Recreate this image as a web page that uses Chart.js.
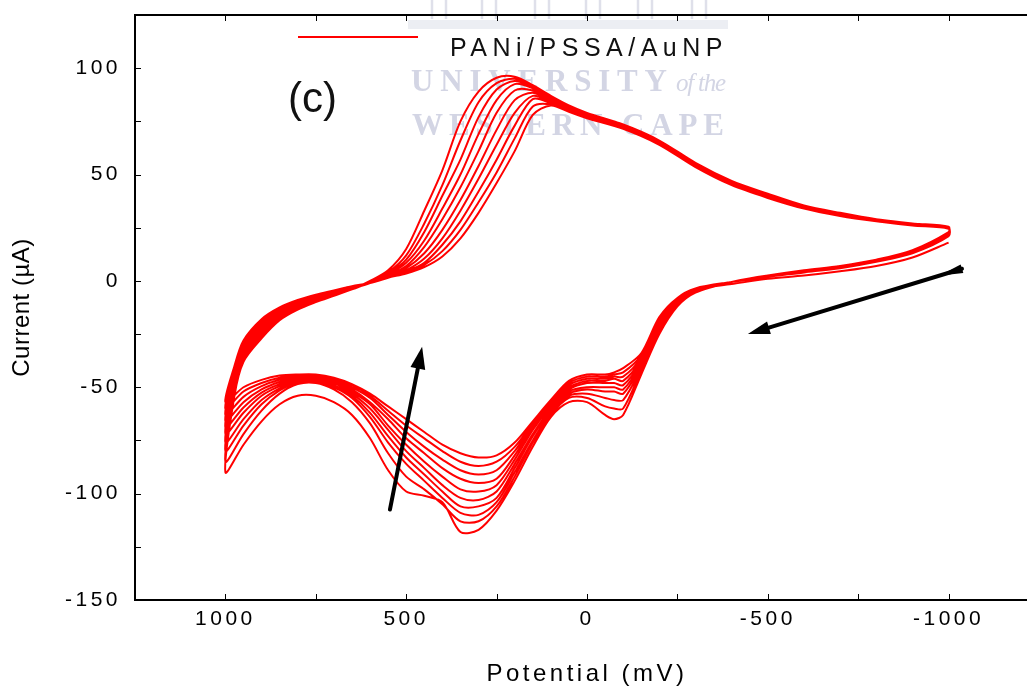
<!DOCTYPE html>
<html>
<head>
<meta charset="utf-8">
<title>PANi/PSSA/AuNP</title>
<script src="https://cdn.jsdelivr.net/npm/chart.js@4.4.0/dist/chart.umd.min.js"></script>
<style>
  html, body { margin: 0; padding: 0; background: #fff; overflow: hidden; }
  #wrap { width: 1039px; height: 689px; }
</style>
</head>
<body>
<div id="wrap"><canvas id="cvChart" width="1039" height="689"></canvas></div>
<script>
// Forward scan potentials (mV), -1000 -> +1000
const anodicPotential = [-1000, -900, -800, -700, -600, -500, -400, -300, -250, -200, -150, -100, -75, -50,
  0, 50, 100, 150, 200, 250, 300, 350, 400, 450, 500, 550, 600, 650, 700, 750, 800, 850, 900, 950, 1000];

// Reverse scan potentials (mV), from just after the +1000 vertex back to -1000
const cathodicPotential = [975, 950, 900, 850, 800, 750, 700, 650, 600, 550, 500, 450, 400, 350, 300, 250, 200,
  150, 100, 50, 0, -100, -200, -300, -400, -500, -600, -700, -800, -900, -1000];

// Current (uA) on the forward scan, one row per cycle (first cycle first)
const anodicCurrent = [
  [18, 11, 7, 4.5, 2.5, 1, -1.5, -4, -8, -17, -34, -41, -43, -44, -44, -47, -56, -66, -76, -82, -83, -81, -77, -71, -65, -59, -53, -48.5, -45.5, -44, -44, -44.5, -46.5, -50, -57],
  [21, 13, 9, 6, 4, 2, -0.5, -3.5, -8, -18, -35, -43, -44, -45, -45, -48, -57, -67, -78, -85, -87, -85, -80, -74, -68, -61, -54, -49, -46, -44.5, -44.5, -45.5, -48, -52, -60],
  [21, 13, 9, 6, 4, 2, -0.5, -3.5, -8.5, -19, -36, -45, -45, -46, -46, -49, -58, -68, -80, -89, -91, -89, -84, -78, -71, -63, -55, -50, -46.5, -45, -45, -46.5, -49.5, -54.5, -63],
  [21.5, 13.5, 9, 6.5, 4, 2, -0.5, -4, -9, -19.5, -37, -47, -46, -47, -47, -50, -58, -69, -82, -93, -95, -93, -88, -81, -74, -65, -57, -51, -47, -45.5, -45.5, -47.5, -51, -57, -66],
  [22, 13.5, 9.5, 6.5, 4.5, 2.5, -0.5, -4, -9.5, -20, -38, -49, -48, -48, -48, -51, -59, -70, -84, -96, -99, -98, -92, -85, -77, -68, -58, -52, -47.5, -46, -46, -48.5, -52.5, -59.5, -69],
  [22, 14, 9.5, 6.5, 4.5, 2.5, -0.5, -4.5, -10, -21, -39, -51, -50, -50, -50, -52, -60, -72, -86, -99, -103, -102, -96, -88, -80, -70, -60, -53, -48, -46.5, -46.5, -49.5, -54, -62, -72],
  [22.5, 14, 9.5, 7, 4.5, 2.5, -0.5, -4.5, -10.5, -22, -40, -53, -52, -52, -51, -53, -61, -73, -88, -102, -106, -106, -99, -91, -83, -73, -62, -54, -49, -47, -47, -50.5, -56, -65, -76],
  [22.5, 14, 10, 7, 4.5, 2.5, -0.5, -5, -11, -23, -41, -56, -56, -55, -53, -54, -62, -75, -90, -104, -110, -109, -102, -94, -86, -76, -64, -55, -50, -47.5, -47.5, -51.5, -58, -68, -80],
  [23, 14.5, 10, 7, 5, 2.5, -0.5, -5, -11.5, -24, -42, -60, -60, -59, -55, -55, -63, -76, -92, -106, -113, -113, -105, -98, -92, -81, -67, -57, -51, -48, -48.5, -53, -61, -72, -85],
  [23, 14.5, 10, 7, 5, 2.5, -0.5, -5.5, -12, -25, -44, -63, -65, -63, -57, -57, -64, -78, -94, -108, -117, -118, -104, -101, -99, -89, -74, -63, -57, -54, -54, -58, -66, -77, -90]
];

// Current (uA) on the reverse scan, one row per cycle
const cathodicCurrent = [
  [-40, -28, -18, -12.5, -9, -6.5, -4.5, -2.5, -1, 1.5, 3.5, 6.5, 11.5, 20, 32, 46, 61, 78, 82.5, 79.5, 76.5, 71.5, 64, 53.5, 45, 39, 34, 30.5, 28, 26, 24.5],
  [-41, -29, -19, -13, -9.5, -7, -4.5, -2.5, -1, 1.5, 4, 7.5, 14, 24, 37, 51, 67, 82, 83, 79.5, 76.5, 71.5, 64, 53.5, 45, 39, 34, 30.5, 28, 26, 24.5],
  [-42.5, -30, -20, -13.5, -10, -7.5, -5, -3, -1, 2, 4.5, 8.5, 17, 28, 42, 57, 73, 85.5, 83.5, 79.5, 77, 72, 64.5, 54, 45.5, 39.5, 34.5, 31, 28, 26.5, 24.5],
  [-44, -31, -21, -14.5, -10.5, -7.5, -5, -3, -1, 2, 5, 10.5, 20, 33, 48, 64, 79, 87, 84, 80, 77, 72, 64.5, 54, 45.5, 39.5, 34.5, 31, 28.5, 26.5, 25],
  [-45.5, -32, -22, -15, -11, -8, -5.5, -3.5, -1, 2.5, 6, 13, 24, 38, 54, 71, 85, 88.5, 84.5, 80, 77.5, 72.5, 65, 54.5, 46, 40, 34.5, 31, 28.5, 26.5, 25],
  [-47, -33, -23, -15.5, -11.5, -8.5, -5.5, -3.5, -1, 2.5, 7, 16, 29, 44, 61, 79, 89.5, 89.5, 85, 80.5, 77.5, 72.5, 65, 54.5, 46, 40, 35, 31, 28.5, 26.5, 25],
  [-48.5, -34, -24, -16.5, -12, -9, -6, -3.5, -1, 3, 8.5, 19, 34, 50, 69, 85, 92.5, 90.5, 85.5, 81, 78, 73, 65.5, 55, 46.5, 40, 35, 31.5, 28.5, 27, 25],
  [-50, -35, -25, -17, -12.5, -9.5, -6.5, -4, -0.5, 3.5, 10, 23, 40, 57, 77, 90, 94, 91, 86, 81.5, 78.5, 73, 65.5, 55, 46.5, 40.5, 35, 31.5, 29, 27, 25],
  [-52, -36.5, -26, -17.5, -13, -10, -6.5, -4, -0.5, 4, 12, 27, 45, 66, 84, 93, 95, 91.5, 86.5, 82, 78.5, 73.5, 66, 55.5, 47, 40.5, 35.5, 31.5, 29, 27, 25.5],
  [-54, -38, -27, -18.5, -13.5, -10, -7, -4, 0, 5, 15, 33, 52, 75, 89, 95.5, 96, 92, 87, 82.5, 79, 73.5, 66, 55.5, 47, 41, 35.5, 32, 29, 27, 25.5]
];

const xTicks = [1000, 750, 500, 250, 0, -250, -500, -750, -1000];
const yTicks = [-150, -125, -100, -75, -50, -25, 0, 25, 50, 75, 100];

// Scan-direction arrows, [potential mV, current uA] at tail and tip
const arrowGrowth = { from: [545, -107.5], to: [456, -31] };
const arrowScan = { from: [-1037, 5.7], to: [-445, -25] };

const seriesLabel = 'PANi/PSSA/AuNP';
const FONT = '"Liberation Sans", Arial, sans-serif';

// One continuous trace: forward then reverse scan for every cycle
const trace = [];
anodicCurrent.forEach((row, c) => {
  row.forEach((v, i) => trace.push({ x: anodicPotential[i], y: v }));
  cathodicCurrent[c].forEach((v, i) => trace.push({ x: cathodicPotential[i], y: v }));
});

Chart.defaults.color = '#000';
Chart.defaults.font.family = FONT;

function line(ctx, x0, y0, x1, y1) {
  ctx.beginPath();
  ctx.moveTo(x0, y0);
  ctx.lineTo(x1, y1);
  ctx.stroke();
}

function spacedText(ctx, text, x, y, width) {
  // spread the letters so the word covers the given width
  ctx.letterSpacing = '0px';
  const w = ctx.measureText(text).width;
  ctx.letterSpacing = ((width - w) / (text.length - 1)) + 'px';
  ctx.fillText(text, x, y);
}

function arrow(ctx, x0, y0, x1, y1, head, half) {
  const a = Math.atan2(y1 - y0, x1 - x0);
  const bx = x1 - head * Math.cos(a), by = y1 - head * Math.sin(a);
  line(ctx, x0, y0, bx, by);
  ctx.beginPath();
  ctx.moveTo(x1, y1);
  ctx.lineTo(bx + half * Math.sin(a), by - half * Math.cos(a));
  ctx.lineTo(bx - half * Math.sin(a), by + half * Math.cos(a));
  ctx.closePath();
  ctx.fill();
}

// letter spacing used by the axis labels and titles
const spacing = {
  id: 'spacing',
  beforeDraw(chart) { chart.ctx.letterSpacing = '3.5px'; }
};

// y title is set tighter than the tick labels
function tightTitle(scale) {
  const base = Object.getPrototypeOf(scale).drawTitle;
  scale.drawTitle = function () {
    const ls = this.ctx.letterSpacing;
    this.ctx.letterSpacing = '0.5px';
    base.call(this);
    this.ctx.letterSpacing = ls;
  };
}

// faint university crest behind the plot
const watermark = {
  id: 'watermark',
  beforeDatasetsDraw(chart) {
    const ctx = chart.ctx;
    ctx.save();
    ctx.strokeStyle = '#dfe0ea';
    ctx.lineWidth = 2.5;
    [432, 482, 535, 586, 638, 692].forEach(cx => {
      line(ctx, cx, 0, cx, 19);
      line(ctx, cx + 14, 0, cx + 14, 19);
    });
    ctx.fillStyle = '#eceef3';
    ctx.fillRect(408, 20, 320, 9);
    ctx.fillStyle = '#d3d5e4';
    ctx.textBaseline = 'alphabetic';
    ctx.font = 'bold 31px "Liberation Serif", "Times New Roman", serif';
    spacedText(ctx, 'UNIVERSITY', 411, 91, 256);
    ctx.font = 'italic 25px "Liberation Serif", "Times New Roman", serif';
    spacedText(ctx, 'of the', 676, 91, 50);
    ctx.font = 'bold 31px "Liberation Serif", "Times New Roman", serif';
    spacedText(ctx, 'WESTERN CAPE', 412, 135, 312);
    ctx.restore();
  }
};

// box, inward ticks, arrows, legend and panel label
const frame = {
  id: 'frame',
  afterDraw(chart) {
    const ctx = chart.ctx;
    const { left, right, top, bottom } = chart.chartArea;
    const xs = chart.scales.x, ys = chart.scales.y;
    ctx.save();
    ctx.strokeStyle = '#000';
    ctx.lineWidth = 2;
    line(ctx, left - 1, top, right, top);
    ctx.lineWidth = 1;
    xTicks.forEach(v => {
      const px = Math.round(xs.getPixelForValue(v)) + 0.5;
      line(ctx, px, bottom - 1, px, bottom - 6);
      line(ctx, px, top + 1, px, top + 6);
    });
    yTicks.forEach(v => {
      const py = Math.round(ys.getPixelForValue(v)) + 0.5;
      line(ctx, left + 1, py, left + 6, py);
    });

    ctx.fillStyle = '#000';
    ctx.lineWidth = 4;
    ctx.lineCap = 'round';
    const p = pt => [xs.getPixelForValue(pt[0]), ys.getPixelForValue(pt[1])];
    let [ax, ay] = p(arrowGrowth.from), [bx, by] = p(arrowGrowth.to);
    arrow(ctx, ax, ay, bx, by, 22, 7.5);
    [ax, ay] = p(arrowScan.from);
    [bx, by] = p(arrowScan.to);
    arrow(ctx, ax, ay, bx, by, 22, 6.5);
    // thickened tail of the scan arrow
    const a = Math.atan2(by - ay, bx - ax);
    ctx.beginPath();
    ctx.moveTo(ax + 4.5 * Math.sin(a), ay - 4.5 * Math.cos(a));
    ctx.lineTo(ax + 24 * Math.cos(a), ay + 24 * Math.sin(a));
    ctx.lineTo(ax - 4.5 * Math.sin(a), ay + 4.5 * Math.cos(a));
    ctx.closePath();
    ctx.fill();

    // legend
    ctx.lineCap = 'butt';
    ctx.strokeStyle = '#ff0000';
    ctx.lineWidth = 2;
    line(ctx, left + 163, top + 22, left + 283, top + 22);
    ctx.fillStyle = '#111';
    ctx.textBaseline = 'alphabetic';
    ctx.textAlign = 'left';
    ctx.font = '25px ' + FONT;
    ctx.letterSpacing = '5.5px';
    ctx.fillText(seriesLabel, left + 315, top + 41);

    ctx.letterSpacing = '0px';
    ctx.font = '42px ' + FONT;
    ctx.fillText('(c)', left + 153, top + 97);
    ctx.restore();
  }
};

new Chart(document.getElementById('cvChart'), {
  type: 'scatter',
  data: {
    datasets: [{
      label: seriesLabel,
      data: trace,
      showLine: true,
      borderColor: '#ff0000',
      borderWidth: 2,
      pointRadius: 0,
      tension: 0.3,
      fill: false
    }]
  },
  options: {
    responsive: false,
    animation: false,
    events: [],
    layout: { padding: { top: 15, left: 0, right: 0, bottom: 0 } },
    scales: {
      x: {
        type: 'linear',
        reverse: true,
        min: -1250,
        max: 1250,
        afterBuildTicks: s => { s.ticks = xTicks.map(v => ({ value: v })); },
        afterFit: s => { s.height = 89; s.paddingLeft = 0; s.paddingRight = 0; },
        grid: { drawOnChartArea: false, drawTicks: false },
        border: { display: true, color: '#000', width: 2 },
        ticks: {
          autoSkip: false,
          maxRotation: 0,
          padding: 7,
          font: { size: 21 },
          callback: v => (v % 500 === 0 ? String(v) : '')
        },
        title: { display: true, text: 'Potential (mV)', font: { size: 24 }, padding: { top: 0, bottom: 0 } }
      },
      y: {
        type: 'linear',
        min: -150,
        max: 125,
        afterBuildTicks: s => { s.ticks = yTicks.map(v => ({ value: v })); },
        afterFit: s => { s.width = 135; s.paddingTop = 0; s.paddingBottom = 0; tightTitle(s); },
        grid: { drawOnChartArea: false, drawTicks: false },
        border: { display: true, color: '#000', width: 2 },
        ticks: {
          autoSkip: false,
          padding: 14,
          font: { size: 21 },
          callback: v => (v % 50 === 0 ? String(v) : '')
        },
        title: { display: true, text: 'Current (µA)', font: { size: 24 }, padding: { top: 8, bottom: 0 } }
      }
    },
    plugins: {
      legend: { display: false },
      tooltip: { enabled: false }
    }
  },
  plugins: [spacing, watermark, frame]
});
</script>
</body>
</html>
